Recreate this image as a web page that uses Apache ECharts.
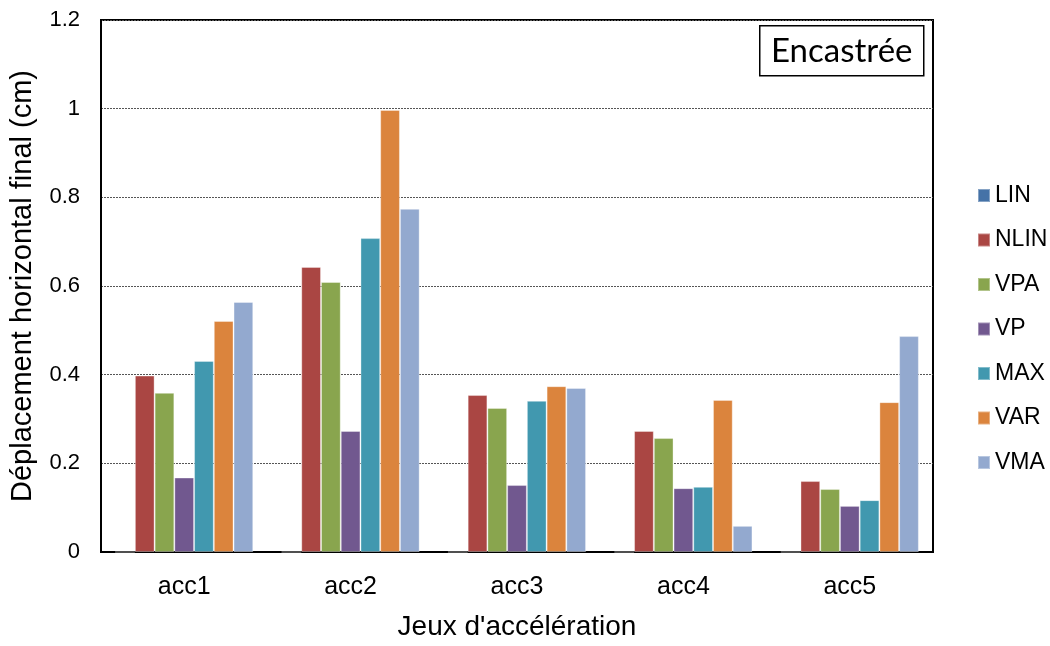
<!DOCTYPE html>
<html><head><meta charset="utf-8">
<script src="https://cdn.jsdelivr.net/npm/echarts@6/dist/echarts.min.js"></script>
<style>html,body{margin:0;padding:0;background:#fff}#c{width:1050px;height:646px}</style>
</head><body><div id="c"></div>
<script>
var categories = ['acc1','acc2','acc3','acc4','acc5'];
var seriesNames = ['LIN','NLIN','VPA','VP','MAX','VAR','VMA'];
var LIN  = [0, 0, 0, 0, 0];
var NLIN = [0.398, 0.643, 0.354, 0.273, 0.160];
var VPA  = [0.359, 0.609, 0.325, 0.257, 0.142];
var VP   = [0.168, 0.273, 0.151, 0.144, 0.104];
var MAX  = [0.431, 0.708, 0.341, 0.147, 0.117];
var VAR  = [0.521, 0.997, 0.374, 0.343, 0.338];
var VMA  = [0.564, 0.774, 0.370, 0.059, 0.487];
var yTicks = [0, 0.2, 0.4, 0.6, 0.8, 1, 1.2];
var colors = ['#4572A7','#AA4643','#89A54E','#71588F','#4198AF','#DB843D','#93A9CF'];
var values = [LIN, NLIN, VPA, VP, MAX, VAR, VMA];

var chart = echarts.init(document.getElementById('c'));
var font = 'Liberation Sans, Arial, sans-serif';
chart.setOption({
  animation: false,
  textStyle: {fontFamily: font},
  grid: {left: 101, right: 117, top: 20, bottom: 94, show: true, borderColor: '#000', borderWidth: 2},
  legend: {
    orient: 'vertical', left: 972, top: 179, itemWidth: 12, itemHeight: 13, itemGap: 21.5,
    textStyle: {fontSize: 23, color: '#000', fontFamily: font},
    data: seriesNames.map(function(n){return {name:n, icon:'rect'};})
  },
  xAxis: {
    type: 'category', data: categories,
    name: "Jeux d'accélération", nameLocation: 'middle', nameGap: 61,
    nameTextStyle: {fontSize: 28, color: '#000', fontFamily: font},
    axisLine: {lineStyle: {color: '#000', width: 2}},
    axisTick: {show: false},
    axisLabel: {fontSize: 25, color: '#000', margin: 23, fontFamily: font}
  },
  yAxis: {
    type: 'value', min: 0, max: 1.2, interval: 0.2,
    name: 'Déplacement horizontal final (cm)', nameLocation: 'middle', nameGap: 64,
    nameTextStyle: {fontSize: 29, color: '#000', fontFamily: font},
    axisLine: {show: true, lineStyle: {color: '#000', width: 2}},
    axisTick: {show: false},
    axisLabel: {fontSize: 22, color: '#000', margin: 21, fontFamily: font,
      formatter: function(v){ return String(Math.round(v*10)/10); }},
    splitLine: {show: true, lineStyle: {color: '#555', type: [2,1], width: 1}}
  },
  series: seriesNames.map(function(n, i){
    return {name: n, type: 'bar', data: values[i], barGap: '0%', barCategoryGap: '17%',
      itemStyle: {color: colors[i], borderColor: 'rgba(255,255,255,0.35)', borderWidth: 1}};
  }),
  graphic: [{
    type: 'group', left: 759, top: 25,
    children: [
      {type: 'rect', shape: {x: 0, y: 0, width: 164, height: 50}, style: {fill: '#fff', stroke: '#000', lineWidth: 1.5}},
      {type: 'text', x: 82, y: 26, style: {text: 'Encastrée', fontSize: 33, fontFamily: 'Lato, sans-serif', fill: '#000', align: 'center', verticalAlign: 'middle'}}
    ]
  }]
});
</script></body></html>
